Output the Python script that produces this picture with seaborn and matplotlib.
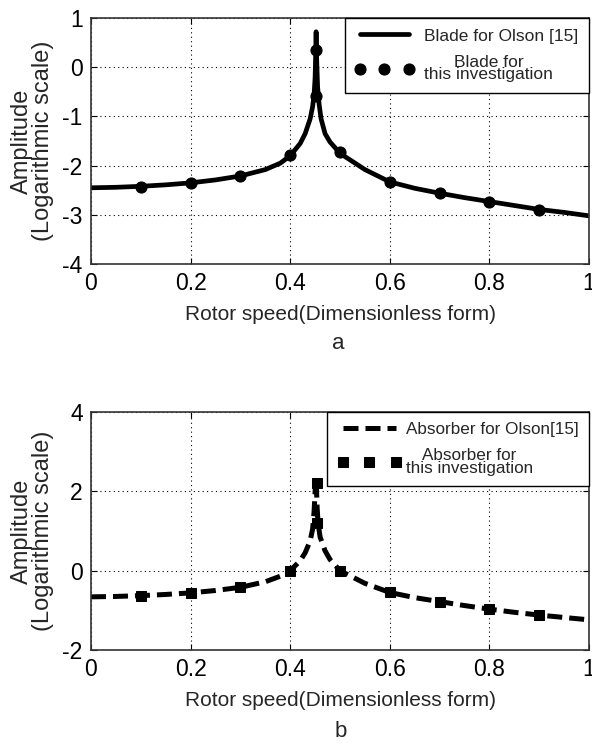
import matplotlib
matplotlib.use("Agg")
import matplotlib.pyplot as plt
import seaborn as sns
import numpy as np
import pandas as pd

# ---- data ----
# Panel a: blade
blade_line_x = [0.0, 0.05, 0.1, 0.15, 0.2, 0.25, 0.3, 0.35, 0.38, 0.4, 0.42, 0.43, 0.44, 0.445,
                0.448, 0.45, 0.451, 0.452, 0.453, 0.455, 0.458, 0.462, 0.47, 0.48, 0.5, 0.55,
                0.6, 0.65, 0.7, 0.75, 0.8, 0.85, 0.9, 0.95, 1.0]
blade_line_y = [-2.45, -2.44, -2.42, -2.39, -2.35, -2.29, -2.21, -2.08, -1.95, -1.80, -1.55, -1.35,
                -1.05, -0.80, -0.55, -0.20, 0.20, 0.72, 0.20, -0.40, -0.75, -1.05, -1.35, -1.52,
                -1.75, -2.08, -2.33, -2.46, -2.56, -2.65, -2.73, -2.81, -2.89, -2.95, -3.02]
blade_pts_x = [0.1, 0.2, 0.3, 0.4, 0.452, 0.452, 0.5, 0.6, 0.7, 0.8, 0.9]
blade_pts_y = [-2.43, -2.35, -2.22, -1.78, 0.35, -0.59, -1.73, -2.33, -2.55, -2.73, -2.90]

# Panel b: absorber
abs_line_x = [0.0, 0.05, 0.1, 0.15, 0.2, 0.25, 0.3, 0.35, 0.38, 0.4, 0.42, 0.43, 0.44, 0.445,
              0.448, 0.45, 0.452, 0.454, 0.456, 0.46, 0.47, 0.48, 0.5, 0.55, 0.6, 0.65,
              0.7, 0.75, 0.8, 0.85, 0.9, 0.95, 1.0]
abs_line_y = [-0.66, -0.65, -0.63, -0.60, -0.56, -0.50, -0.42, -0.28, -0.14, 0.0, 0.25, 0.45,
              0.75, 1.05, 1.50, 2.00, 2.35, 1.60, 1.20, 0.85, 0.50, 0.28, 0.0, -0.32,
              -0.55, -0.68, -0.78, -0.88, -0.97, -1.05, -1.12, -1.18, -1.24]
abs_pts_x = [0.1, 0.2, 0.3, 0.4, 0.453, 0.453, 0.5, 0.6, 0.7, 0.8, 0.9]
abs_pts_y = [-0.63, -0.56, -0.42, 0.0, 2.20, 1.20, 0.0, -0.55, -0.78, -0.97, -1.12]

x_ticks = [0, 0.2, 0.4, 0.6, 0.8, 1]
x_ticklabels = ["0", "0.2", "0.4", "0.6", "0.8", "1"]
a_yticks = [-4, -3, -2, -1, 0, 1]
b_yticks = [-2, 0, 2, 4]

sns.set_style("white")
plt.rcParams['font.family'] = ['Liberation Sans', 'DejaVu Sans']

fig = plt.figure(figsize=(5.92, 7.46), dpi=100)
ax1 = fig.add_axes([0.1537, 0.646, 0.8413, 0.3299])
ax2 = fig.add_axes([0.1537, 0.1287, 0.8413, 0.319])

def style_axes(ax, yticks, ylim):
    ax.set_xlim(0, 1)
    ax.set_ylim(*ylim)
    ax.set_xticks(x_ticks)
    ax.set_xticklabels(x_ticklabels)
    ax.set_yticks(yticks)
    ax.set_yticklabels([str(v) for v in yticks])
    ax.grid(True, linestyle=(0, (1, 3)), color='black', linewidth=0.8)
    ax.tick_params(direction='in', length=4, labelsize=16.5, top=True, right=True,
                   bottom=True, left=True, colors='black')
    ax.tick_params(axis='x', pad=6)
    ax.tick_params(axis='y', pad=6)
    for s in ax.spines.values():
        s.set_visible(True)
        s.set_color('#333333')
        s.set_linewidth(1.2)
    ax.set_xlabel("Rotor speed(Dimensionless form)", fontsize=15, labelpad=7)
    ax.set_ylabel("Amplitude\n(Logarithmic scale)", fontsize=17, labelpad=6, linespacing=0.95)

# Panel a
da = pd.DataFrame({"x": blade_line_x, "y": blade_line_y})
pa = pd.DataFrame({"x": blade_pts_x, "y": blade_pts_y})
sns.lineplot(data=da, x="x", y="y", ax=ax1, color='black', linewidth=3.4, sort=False,
             estimator=None, label="Blade for Olson [15]")
sns.lineplot(data=pa, x="x", y="y", ax=ax1, color='black', linestyle='none', marker='o',
             markersize=8, markeredgecolor='black', sort=False, estimator=None,
             label="Blade for\nthis investigation")
style_axes(ax1, a_yticks, (-4, 1))

# Panel b
db = pd.DataFrame({"x": abs_line_x, "y": abs_line_y})
pb = pd.DataFrame({"x": abs_pts_x, "y": abs_pts_y})
sns.lineplot(data=db, x="x", y="y", ax=ax2, color='black', linewidth=3.6, sort=False,
             estimator=None, linestyle=(0, (3, 1.4)), label="Absorber for Olson[15]")
sns.lineplot(data=pb, x="x", y="y", ax=ax2, color='black', linestyle='none', marker='s',
             markersize=7.5, markeredgecolor='black', sort=False, estimator=None,
             label="Absorber for\nthis investigation")
style_axes(ax2, b_yticks, (-2, 4))

for ax, fs, hl, tp in ((ax1, 12.5, 3.4, 0.6), (ax2, 12.3, 3.7, 0.3)):
    leg = ax.legend(loc='upper right', fontsize=fs, numpoints=3, frameon=True, fancybox=False,
                    edgecolor='black', framealpha=1, borderaxespad=0, handlelength=hl,
                    handletextpad=tp, borderpad=0.6, labelspacing=0.65)
    leg.get_frame().set_linewidth(1.0)
    for t in leg.get_texts():
        t.set_multialignment('center')
        t.set_linespacing(0.8)

fig.text(0.572, 1 - 349 / 746, "a", ha='center', va='baseline', fontsize=16)
fig.text(0.576, 1 - 737 / 746, "b", ha='center', va='baseline', fontsize=16)

fig.savefig("out.png", dpi=100)
